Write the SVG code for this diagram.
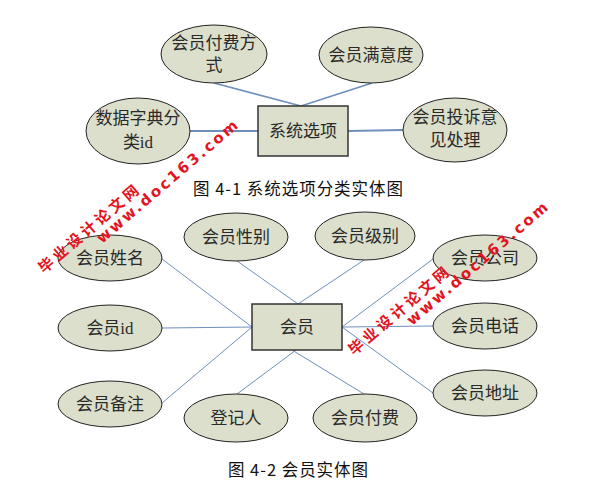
<svg xmlns="http://www.w3.org/2000/svg" width="592" height="485" viewBox="0 0 592 485">
<style>
.e{fill:#dcdfcb;stroke:#222;stroke-width:1}
.r{fill:#dcdfcb;stroke:#333;stroke-width:1.5}
.t{font-family:"Liberation Serif","Noto Sans CJK SC",serif;font-size:17px;fill:#2a2a2a;text-anchor:middle;dominant-baseline:central}
.c{font-family:"Noto Sans CJK SC",sans-serif;font-size:16.5px;fill:#111}
#conn line{stroke:#6f8fbd;stroke-width:1}
#conn .k{stroke-width:1.8}
.w{font-family:"DejaVu Sans","Noto Sans CJK SC",sans-serif;font-weight:bold;font-size:15px;fill:#e3141e}
</style>
<rect width="592" height="485" fill="#fff"/>
<g id="conn">
<line class="k" x1="214" y1="83" x2="301" y2="106"/>
<line class="k" x1="372" y1="83" x2="301" y2="106"/>
<line class="k" x1="190" y1="131" x2="258" y2="131"/>
<line class="k" x1="348" y1="131" x2="403" y2="130"/>
<line x1="162" y1="259" x2="252" y2="327"/>
<line x1="162" y1="328" x2="252" y2="327"/>
<line x1="162" y1="403" x2="252" y2="327"/>
<line x1="237" y1="261" x2="298" y2="304"/>
<line x1="364" y1="260" x2="298" y2="304"/>
<line x1="237" y1="394" x2="296" y2="350"/>
<line x1="364" y1="394" x2="292" y2="350"/>
<line x1="342" y1="327" x2="433" y2="259"/>
<line x1="342" y1="327" x2="433" y2="326"/>
<line x1="342" y1="327" x2="433" y2="393"/>
</g>
<g id="n1"><ellipse class="e" cx="214" cy="54" rx="53" ry="29"/><text class="t" x="214" y="43">会员付费方</text><text class="t" x="214" y="65">式</text></g>
<g id="n2"><ellipse class="e" cx="371" cy="55" rx="52" ry="28"/><text class="t" x="371" y="55">会员满意度</text></g>
<g id="n3"><ellipse class="e" cx="138" cy="131" rx="52" ry="33"/><text class="t" x="138" y="118">数据字典分</text><text class="t" x="138" y="142">类id</text></g>
<g id="n4"><rect class="r" x="258" y="106" width="90" height="50"/><text class="t" x="303" y="131">系统选项</text></g>
<g id="n5"><ellipse class="e" cx="455" cy="130" rx="52" ry="32"/><text class="t" x="455" y="117">会员投诉意</text><text class="t" x="455" y="140">见处理</text></g>
<text class="c" x="193" y="195" textLength="210" lengthAdjust="spacing">图 4-1 系统选项分类实体图</text>
<g id="m1"><ellipse class="e" cx="110" cy="258" rx="52" ry="23"/><text class="t" x="110" y="258">会员姓名</text></g>
<g id="m2"><ellipse class="e" cx="236" cy="237" rx="52" ry="24"/><text class="t" x="236" y="237">会员性别</text></g>
<g id="m3"><ellipse class="e" cx="365" cy="236" rx="50" ry="24"/><text class="t" x="365" y="236">会员级别</text></g>
<g id="m4"><ellipse class="e" cx="485" cy="258" rx="52" ry="23"/><text class="t" x="485" y="258">会员公司</text></g>
<g id="m5"><ellipse class="e" cx="110" cy="328" rx="52" ry="23"/><text class="t" x="110" y="328">会员id</text></g>
<g id="m6"><rect class="r" x="252" y="304" width="90" height="46"/><text class="t" x="297" y="327">会员</text></g>
<g id="m7"><ellipse class="e" cx="485" cy="326" rx="52" ry="23"/><text class="t" x="485" y="326">会员电话</text></g>
<g id="m8"><ellipse class="e" cx="485" cy="393" rx="52" ry="23"/><text class="t" x="485" y="393">会员地址</text></g>
<g id="m9"><ellipse class="e" cx="110" cy="404" rx="52" ry="23"/><text class="t" x="110" y="404">会员备注</text></g>
<g id="m10"><ellipse class="e" cx="236" cy="418" rx="52" ry="24"/><text class="t" x="236" y="418">登记人</text></g>
<g id="m11"><ellipse class="e" cx="365" cy="418" rx="52" ry="24"/><text class="t" x="365" y="418">会员付费</text></g>
<text class="c" x="228" y="476" textLength="140" lengthAdjust="spacing">图 4-2 会员实体图</text>
<g id="wm1">
<text class="w" transform="translate(44,274) rotate(-40.5)" textLength="126" lengthAdjust="spacing">毕业设计论文网</text>
<text class="w" transform="translate(102,244) rotate(-40.5)" textLength="180" lengthAdjust="spacing">www.doc163.com</text>
</g>
<g id="wm2">
<text class="w" transform="translate(354,356) rotate(-40.5)" textLength="126" lengthAdjust="spacing">毕业设计论文网</text>
<text class="w" transform="translate(412,326) rotate(-40.5)" textLength="180" lengthAdjust="spacing">www.doc163.com</text>
</g>
</svg>
